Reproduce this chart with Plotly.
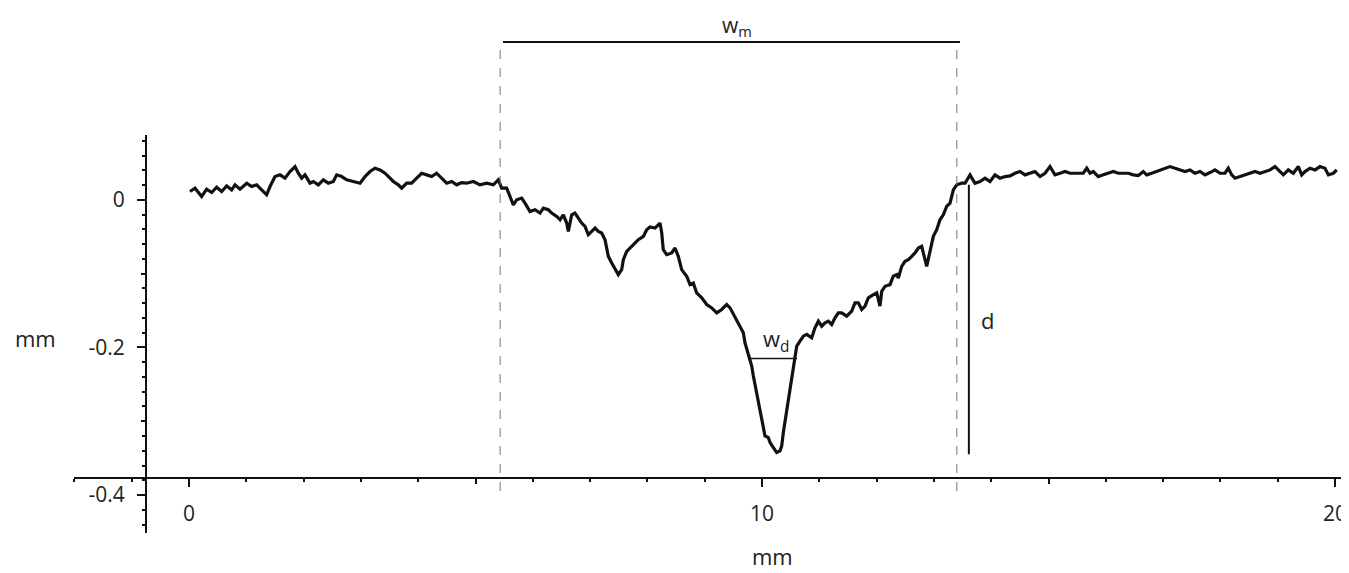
import plotly.graph_objects as go

# ---- profile data (mm) ----
x_mm = [
    0.017, 0.105, 0.221, 0.308, 0.395, 0.483, 0.570, 0.657, 0.744, 0.803, 0.890, 1.007, 1.094, 1.181, 1.268,
    1.355, 1.414, 1.501, 1.588, 1.675, 1.763, 1.850, 1.908, 1.966, 2.024, 2.112, 2.170, 2.257, 2.344, 2.431,
    2.519, 2.577, 2.664, 2.752, 2.868, 2.985, 3.072, 3.159, 3.246, 3.333, 3.421, 3.508, 3.566, 3.653, 3.712,
    3.799, 3.886, 3.973, 4.060, 4.148, 4.235, 4.322, 4.409, 4.497, 4.584, 4.671, 4.758, 4.845, 4.962,
    5.079, 5.195, 5.311, 5.398, 5.457, 5.544, 5.602, 5.660, 5.719, 5.806, 5.864, 5.951, 6.038, 6.126, 6.184,
    6.271, 6.330, 6.417, 6.475, 6.533, 6.591, 6.620, 6.679, 6.736, 6.795, 6.853, 6.911, 6.969, 7.028, 7.086,
    7.143, 7.202, 7.260, 7.318, 7.377, 7.435, 7.492, 7.551, 7.580, 7.639, 7.696, 7.754, 7.841, 7.930, 7.987,
    8.045, 8.133, 8.220, 8.250, 8.277, 8.337, 8.424, 8.482, 8.539, 8.598, 8.686, 8.743, 8.801, 8.860, 8.948,
    9.035, 9.122, 9.210, 9.297, 9.384, 9.442, 9.500, 9.569,
    9.646, 9.674, 9.703, 9.733, 9.779, 9.820, 9.849, 9.907, 9.965, 10.023, 10.052, 10.110, 10.140, 10.198,
    10.256, 10.314, 10.344, 10.372, 10.419, 10.459, 10.501, 10.546, 10.576, 10.606, 10.663, 10.721, 10.780,
    10.867, 10.925, 10.983, 11.042, 11.100, 11.157, 11.216, 11.274, 11.332,
    11.390, 11.478, 11.565, 11.623, 11.681, 11.740, 11.798, 11.855, 11.943, 12.002, 12.059, 12.089, 12.147,
    12.234, 12.291, 12.351, 12.379, 12.438, 12.496, 12.553, 12.613, 12.670, 12.728, 12.787, 12.845, 12.874,
    12.932, 12.990, 13.049, 13.106, 13.164, 13.223, 13.281, 13.310, 13.339, 13.398, 13.485, 13.543, 13.600,
    13.630, 13.717, 13.805, 13.892, 13.979, 14.066, 14.154, 14.241, 14.328, 14.415, 14.503, 14.590, 14.677,
    14.764, 14.852, 14.939, 15.026, 15.113, 15.201, 15.288, 15.375, 15.492, 15.607, 15.667, 15.724, 15.782,
    15.869, 15.956, 16.044, 16.131, 16.218, 16.305, 16.393, 16.480, 16.567, 16.654, 16.714, 16.801, 16.888,
    16.975, 17.063, 17.120, 17.208, 17.295, 17.382, 17.469, 17.557, 17.644, 17.731, 17.818, 17.906, 17.993,
    18.080, 18.138, 18.197, 18.255, 18.342, 18.429, 18.517, 18.604, 18.691, 18.778, 18.866, 18.953, 19.040,
    19.098, 19.185, 19.272, 19.360, 19.418, 19.476, 19.564, 19.651, 19.738, 19.825, 19.884, 19.971, 20.030,
]
depth_mm = [
    0.0113, 0.0158, 0.0045, 0.0144, 0.0099, 0.0171, 0.0113, 0.0189, 0.0135, 0.0203, 0.0144, 0.0225, 0.0180, 0.0203, 0.0135,
    0.0068, 0.0180, 0.0315, 0.0338, 0.0293, 0.0383, 0.0450, 0.0360, 0.0293, 0.0338, 0.0225, 0.0248, 0.0203, 0.0270, 0.0225,
    0.0248, 0.0338, 0.0315, 0.0270, 0.0248, 0.0225, 0.0315, 0.0383, 0.0428, 0.0405, 0.0360, 0.0293, 0.0248, 0.0203, 0.0158,
    0.0225, 0.0225, 0.0293, 0.0360, 0.0338, 0.0315, 0.0360, 0.0293, 0.0225, 0.0248, 0.0203, 0.0234, 0.0225, 0.0248,
    0.0203, 0.0225, 0.0203, 0.0270, 0.0158, 0.0158, 0.0045, -0.0068, 0.0000, 0.0023, -0.0045, -0.0158, -0.0135, -0.0180, -0.0113,
    -0.0135, -0.0180, -0.0225, -0.0270, -0.0203, -0.0315, -0.0428, -0.0203, -0.0180, -0.0248, -0.0315, -0.0360, -0.0473, -0.0428, -0.0383,
    -0.0428, -0.0450, -0.0540, -0.0766, -0.0856, -0.0946, -0.1014, -0.0946, -0.0811, -0.0698, -0.0653, -0.0608, -0.0540, -0.0495, -0.0405,
    -0.0369, -0.0383, -0.0315, -0.0450, -0.0676, -0.0743, -0.0720, -0.0653, -0.0766, -0.0946, -0.1036, -0.1149, -0.1126, -0.1261, -0.1329,
    -0.1419, -0.1464, -0.1532, -0.1486, -0.1419, -0.1464, -0.1554, -0.1644,
    -0.1757, -0.1802, -0.1937, -0.2027, -0.2140, -0.2252, -0.2387, -0.2613, -0.2838, -0.3063, -0.3198, -0.3221, -0.3288, -0.3356,
    -0.3423, -0.3401, -0.3333, -0.3153, -0.2928, -0.2703, -0.2477, -0.2252, -0.2117, -0.1982, -0.1914, -0.1847, -0.1824,
    -0.1869, -0.1734, -0.1644, -0.1712, -0.1667, -0.1644, -0.1689, -0.1599, -0.1532,
    -0.1532, -0.1577, -0.1509, -0.1396, -0.1396, -0.1486, -0.1441, -0.1329, -0.1284, -0.1261, -0.1441, -0.1239, -0.1171,
    -0.1149, -0.1036, -0.1014, -0.1059, -0.0901, -0.0833, -0.0811, -0.0766, -0.0720, -0.0653, -0.0631, -0.0811, -0.0901,
    -0.0698, -0.0495, -0.0405, -0.0270, -0.0203, -0.0090, -0.0045, 0.0045, 0.0135, 0.0203, 0.0225, 0.0225, 0.0315,
    0.0338, 0.0225, 0.0248, 0.0293, 0.0248, 0.0338, 0.0293, 0.0315, 0.0324, 0.0360, 0.0383, 0.0338, 0.0360,
    0.0383, 0.0315, 0.0360, 0.0450, 0.0338, 0.0360, 0.0383, 0.0360, 0.0360, 0.0360, 0.0428, 0.0360, 0.0383,
    0.0315, 0.0338, 0.0360, 0.0383, 0.0360, 0.0360, 0.0360, 0.0338, 0.0329, 0.0383, 0.0338, 0.0360, 0.0383,
    0.0405, 0.0428, 0.0450, 0.0428, 0.0405, 0.0383, 0.0405, 0.0360, 0.0383, 0.0338, 0.0369, 0.0405, 0.0360,
    0.0360, 0.0428, 0.0338, 0.0293, 0.0315, 0.0329, 0.0360, 0.0383, 0.0360, 0.0383, 0.0405, 0.0450, 0.0383,
    0.0338, 0.0405, 0.0360, 0.0450, 0.0338, 0.0383, 0.0428, 0.0405, 0.0450, 0.0428, 0.0338, 0.0360, 0.0405,
]

x_major_ticks = [0, 10, 20]
x_major_labels = ["0", "10", "20"]
x_mid_ticks = [5, 15]
y_major_ticks = [0, -0.2, -0.4]
y_major_labels = ["0", "-0.2", "-0.4"]
y_mid_ticks = [-0.1, -0.3]

# annotation geometry (data units)
wm_left, wm_right = 5.43, 13.40          # dashed bounds
wm_bar = (5.48, 13.455)
wd_bar = (9.79, 10.61, -0.215)
d_line = (13.61, 0.0203, -0.3446)

# page is offset by the default 8px body margin -> shrink figure accordingly
OFF = 8
W, H = 1349 - OFF, 573 - OFF
X_RANGE = [-2.007, 20.244]
Y_RANGE = [-0.4514, 0.0878]


def pxp(page_x):
    return (page_x - OFF) / W


def pyp(page_y):
    return (H - (page_y - OFF)) / H


x_dom = [pxp(74), 1.0]
y_dom = [pyp(533), pyp(135)]
x_axis_pos = pyp(478)
y_axis_pos = pxp(146)

FONT = "Open Sans"
TXT = "#222222"

fig = go.Figure()
fig.add_trace(go.Scatter(x=x_mm, y=depth_mm, mode="lines",
                         line=dict(color="#111111", width=3.2), hoverinfo="skip", showlegend=False))
# helper invisible traces so overlay axes get drawn
fig.add_trace(go.Scatter(x=[0], y=[0], xaxis="x2", yaxis="y", mode="markers",
                         marker=dict(opacity=0), hoverinfo="skip", showlegend=False))
fig.add_trace(go.Scatter(x=[0], y=[0], xaxis="x", yaxis="y2", mode="markers",
                         marker=dict(opacity=0), hoverinfo="skip", showlegend=False))

tickfont = dict(family=FONT, size=21, color=TXT)

fig.update_layout(
    width=W, height=H,
    margin=dict(l=0, r=0, t=0, b=0),
    paper_bgcolor="white", plot_bgcolor="white",
    xaxis=dict(
        domain=x_dom, range=X_RANGE, anchor="free", position=x_axis_pos,
        showgrid=False, zeroline=False, showline=True, linecolor="#111", linewidth=2,
        tickmode="array", tickvals=x_major_ticks, ticktext=x_major_labels,
        ticks="outside", ticklen=8, tickwidth=2, tickcolor="#111",
        tickfont=tickfont, ticklabelstandoff=9,
        minor=dict(dtick=1, tick0=0, ticks="outside", ticklen=3, tickwidth=1.5, tickcolor="#111"),
    ),
    xaxis2=dict(
        domain=x_dom, range=X_RANGE, anchor="free", position=x_axis_pos, overlaying="x",
        showgrid=False, zeroline=False, showline=False,
        tickmode="array", tickvals=x_mid_ticks, ticks="outside", ticklen=5, tickwidth=2,
        tickcolor="#111", showticklabels=False,
    ),
    yaxis=dict(
        domain=y_dom, range=Y_RANGE, anchor="free", position=y_axis_pos,
        showgrid=False, zeroline=False, showline=True, linecolor="#111", linewidth=2,
        tickmode="array", tickvals=y_major_ticks, ticktext=y_major_labels,
        ticks="outside", ticklen=8, tickwidth=2, tickcolor="#111",
        tickfont=tickfont, ticklabelstandoff=8,
        minor=dict(dtick=0.02, tick0=0, ticks="outside", ticklen=3, tickwidth=1.5, tickcolor="#111"),
    ),
    yaxis2=dict(
        domain=y_dom, range=Y_RANGE, anchor="free", position=y_axis_pos, overlaying="y",
        showgrid=False, zeroline=False, showline=False,
        tickmode="array", tickvals=y_mid_ticks, ticks="outside", ticklen=5, tickwidth=2,
        tickcolor="#111", showticklabels=False,
    ),
)

shapes = []
for xv in (wm_left, wm_right):
    shapes.append(dict(type="line", xref="x", yref="paper", x0=xv, x1=xv, y0=pyp(50), y1=pyp(497),
                       line=dict(color="#777777", width=1, dash="dash")))
shapes.append(dict(type="line", xref="x", yref="paper", x0=wm_bar[0], x1=wm_bar[1], y0=pyp(42), y1=pyp(42),
                   line=dict(color="#111111", width=2)))
shapes.append(dict(type="line", xref="x", yref="y", x0=wd_bar[0], x1=wd_bar[1], y0=wd_bar[2], y1=wd_bar[2],
                   line=dict(color="#111111", width=1.5)))
shapes.append(dict(type="line", xref="x", yref="y", x0=d_line[0], x1=d_line[0], y0=d_line[1], y1=d_line[2],
                   line=dict(color="#111111", width=2)))
fig.update_layout(shapes=shapes)

lab = dict(family=FONT, size=22, color=TXT)
annots = [
    dict(text="w<sub>m</sub>", xref="x", yref="paper", x=(wm_left + wm_right) / 2 + 0.15, y=pyp(26),
         showarrow=False, font=dict(family=FONT, size=21, color=TXT), xanchor="center", yanchor="middle"),
    dict(text="w<sub>d</sub>", xref="x", yref="y", x=(wd_bar[0] + wd_bar[1]) / 2 + 0.05, y=-0.19,
         showarrow=False, font=lab, xanchor="center", yanchor="middle"),
    dict(text="d", xref="x", yref="y", x=d_line[0] + 0.18, y=-0.163,
         showarrow=False, font=lab, xanchor="left", yanchor="middle"),
    dict(text="mm", xref="paper", yref="paper", x=pxp(35), y=pyp(338),
         showarrow=False, font=dict(family=FONT, size=22, color=TXT), xanchor="center", yanchor="middle"),
    dict(text="mm", xref="paper", yref="paper", x=pxp(773), y=pyp(556),
         showarrow=False, font=dict(family=FONT, size=22, color=TXT), xanchor="center", yanchor="middle"),
]
fig.update_layout(annotations=annots)

fig.write_html("out.html")
